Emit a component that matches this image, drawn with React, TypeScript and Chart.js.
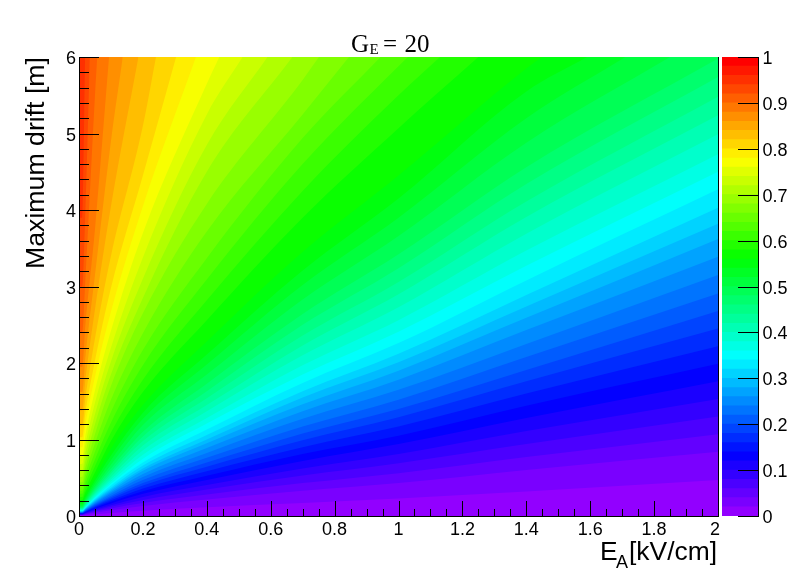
import React, { useEffect, useRef } from "react";
import { Chart, registerables } from "chart.js";

Chart.register(...registerables);

// Sampled x positions of the contour lines (kV/cm)
const contourX = [0.01, 0.02, 0.05, 0.1, 0.2, 0.4, 0.7, 1, 1.4, 2];

// Contour heights (m) at contourX, level value -> heights. Rows that leave through the top edge are shorter.
const contourRows: [number, number[]][] = [
  [0.02, [0.006, 0.011, 0.023, 0.04, 0.07, 0.115, 0.17, 0.23, 0.32, 0.47]],
  [0.04, [0.012, 0.02, 0.043, 0.075, 0.13, 0.215, 0.33, 0.43, 0.6, 0.84]],
  [0.06, [0.016, 0.027, 0.056, 0.098, 0.17, 0.28, 0.43, 0.56, 0.77, 1.07]],
  [0.08, [0.02, 0.033, 0.069, 0.12, 0.21, 0.345, 0.53, 0.69, 0.94, 1.3]],
  [0.1, [0.024, 0.039, 0.081, 0.142, 0.25, 0.405, 0.62, 0.81, 1.11, 1.53]],
  [0.12, [0.028, 0.045, 0.094, 0.165, 0.29, 0.47, 0.72, 0.94, 1.28, 1.76]],
  [0.14, [0.032, 0.05, 0.105, 0.185, 0.325, 0.525, 0.81, 1.05, 1.44, 1.99]],
  [0.16, [0.035, 0.056, 0.117, 0.205, 0.36, 0.585, 0.9, 1.17, 1.6, 2.22]],
  [0.18, [0.039, 0.062, 0.129, 0.225, 0.4, 0.645, 0.99, 1.29, 1.76, 2.45]],
  [0.2, [0.042, 0.067, 0.14, 0.245, 0.43, 0.7, 1.08, 1.4, 1.91, 2.68]],
  [0.22, [0.046, 0.073, 0.152, 0.265, 0.47, 0.76, 1.17, 1.52, 2.08, 2.91]],
  [0.24, [0.05, 0.08, 0.165, 0.29, 0.51, 0.825, 1.27, 1.65, 2.25, 3.15]],
  [0.26, [0.053, 0.085, 0.178, 0.31, 0.55, 0.89, 1.37, 1.78, 2.43, 3.39]],
  [0.28, [0.057, 0.091, 0.19, 0.33, 0.59, 0.95, 1.46, 1.9, 2.59, 3.62]],
  [0.3, [0.06, 0.096, 0.2, 0.35, 0.62, 1.0, 1.55, 2.01, 2.74, 3.82]],
  [0.32, [0.064, 0.102, 0.212, 0.37, 0.66, 1.06, 1.63, 2.12, 2.89, 4.03]],
  [0.34, [0.068, 0.108, 0.226, 0.4, 0.7, 1.13, 1.74, 2.26, 3.08, 4.27]],
  [0.36, [0.072, 0.116, 0.241, 0.42, 0.75, 1.21, 1.85, 2.41, 3.27, 4.5]],
  [0.38, [0.08, 0.125, 0.256, 0.45, 0.8, 1.28, 1.97, 2.56, 3.47, 4.73]],
  [0.4, [0.085, 0.135, 0.275, 0.48, 0.86, 1.37, 2.1, 2.73, 3.69, 4.99]],
  [0.42, [0.09, 0.145, 0.295, 0.51, 0.92, 1.45, 2.23, 2.9, 3.91, 5.24]],
  [0.44, [0.1, 0.155, 0.315, 0.55, 0.98, 1.54, 2.36, 3.06, 4.11, 5.48]],
  [0.46, [0.105, 0.165, 0.335, 0.58, 1.04, 1.63, 2.5, 3.24, 4.34, 5.74]],
  [0.48, [0.115, 0.18, 0.36, 0.62, 1.1, 1.73, 2.64, 3.42, 4.56, 5.98]],
  [0.5, [0.125, 0.195, 0.385, 0.67, 1.19, 1.85, 2.83, 3.66, 4.88]],
  [0.52, [0.14, 0.215, 0.42, 0.73, 1.27, 1.98, 3.02, 3.9, 5.2]],
  [0.54, [0.16, 0.24, 0.46, 0.79, 1.35, 2.11, 3.21, 4.15, 5.55]],
  [0.56, [0.18, 0.27, 0.5, 0.88, 1.45, 2.28, 3.45, 4.45, 5.85]],
  [0.58, [0.21, 0.31, 0.57, 0.98, 1.62, 2.56, 3.9, 5.07]],
  [0.6, [0.25, 0.36, 0.65, 1.09, 1.78, 2.82, 4.25, 5.5]],
  [0.62, [0.29, 0.42, 0.74, 1.22, 1.97, 3.09, 4.6, 5.88]],
  [0.64, [0.33, 0.48, 0.84, 1.36, 2.17, 3.37, 4.94]],
  [0.66, [0.38, 0.55, 0.95, 1.52, 2.39, 3.72, 5.25]],
  [0.68, [0.44, 0.63, 1.07, 1.7, 2.65, 4.08, 5.7]],
  [0.7, [0.51, 0.72, 1.2, 1.85, 2.85, 4.5]],
  [0.72, [0.59, 0.82, 1.33, 2.02, 3.1, 4.85]],
  [0.74, [0.68, 0.93, 1.48, 2.2, 3.38, 5.25]],
  [0.76, [0.78, 1.05, 1.64, 2.42, 3.7, 5.65]],
  [0.78, [0.9, 1.19, 1.82, 2.67, 4.05]],
  [0.8, [1.03, 1.35, 2.03, 2.98, 4.45]],
  [0.82, [1.18, 1.54, 2.32, 3.4, 5.1]],
  [0.84, [1.38, 1.78, 2.7, 4.05]],
  [0.86, [1.62, 2.08, 3.15, 4.9]],
  [0.88, [1.95, 2.5, 3.75]],
  [0.9, [2.4, 3.1, 5.5]],
  [0.92, [3.0, 4.0]],
  [0.94, [3.9]],
];

// Where the higher contours meet the top edge of the plot (kV/cm), by level
const topCrossX: Record<string, number> = {
  "0.5": 1.85, "0.52": 1.71, "0.54": 1.59, "0.56": 1.45, "0.58": 1.25, "0.6": 1.13,
  "0.62": 1.03, "0.64": 0.944, "0.66": 0.845, "0.68": 0.751, "0.7": 0.668, "0.72": 0.59,
  "0.74": 0.512, "0.76": 0.439, "0.78": 0.366, "0.8": 0.304, "0.82": 0.241, "0.84": 0.186,
  "0.86": 0.137, "0.88": 0.094, "0.9": 0.057, "0.92": 0.034, "0.94": 0.019,
};

const colorBandTops = [
  0.02, 0.04, 0.06, 0.08, 0.1, 0.12, 0.14, 0.16, 0.18, 0.2,
  0.22, 0.24, 0.26, 0.28, 0.3, 0.32, 0.34, 0.36, 0.38, 0.4,
  0.42, 0.44, 0.46, 0.48, 0.5, 0.52, 0.54, 0.56, 0.58, 0.6,
  0.62, 0.64, 0.66, 0.68, 0.7, 0.72, 0.74, 0.76, 0.78, 0.8,
  0.82, 0.84, 0.86, 0.88, 0.9, 0.92, 0.94, 0.96, 0.98, 1,
];

const xTicks = [0, 0.2, 0.4, 0.6, 0.8, 1, 1.2, 1.4, 1.6, 1.8, 2];
const xTickLabels = ["0", "0.2", "0.4", "0.6", "0.8", "1", "1.2", "1.4", "1.6", "1.8", "2"];
const yTicks = [0, 1, 2, 3, 4, 5, 6];
const zTicks = [0, 0.1, 0.2, 0.3, 0.4, 0.5, 0.6, 0.7, 0.8, 0.9, 1];
const zTickLabels = ["0", "0.1", "0.2", "0.3", "0.4", "0.5", "0.6", "0.7", "0.8", "0.9", "1"];

const SANS = '"Liberation Sans", Arial, sans-serif';
const SERIF = '"Liberation Serif", "Times New Roman", serif';

const bandColor = (bandIndex: number) => `hsl(${280 - (bandIndex + 1) * 5.6}, 100%, 50%)`;

function line(ctx: CanvasRenderingContext2D, x1: number, y1: number, x2: number, y2: number) {
  ctx.beginPath();
  ctx.moveTo(x1, y1);
  ctx.lineTo(x2, y2);
  ctx.stroke();
}

const frameAndText = {
  id: "frameAndText",
  afterDraw(chart: any) {
    const { ctx, chartArea: a, scales } = chart;
    const px = (v: number) => Math.round(v) + 0.5;
    ctx.save();
    ctx.strokeStyle = "#000";
    ctx.lineWidth = 1;
    line(ctx, px(a.left), a.top, px(a.left), a.bottom + 1);
    line(ctx, a.left, px(a.bottom), a.right + 1, px(a.bottom));
    line(ctx, px(a.right), a.top, px(a.right), a.bottom + 1);
    const xs = scales.x;
    const ys = scales.y;
    ctx.fillStyle = "#000";
    ctx.textBaseline = "alphabetic";
    ctx.font = `18px ${SANS}`;
    ctx.textAlign = "center";
    for (let i = 0; i < xTicks.length; i++) {
      const x0 = xTicks[i];
      const p0 = xs.getPixelForValue(x0);
      line(ctx, px(p0), a.bottom, px(p0), a.bottom - 15);
      ctx.fillText(xTickLabels[i], i === xTicks.length - 1 ? p0 - 3 : p0, 535);
      if (i < xTicks.length - 1) {
        for (const f of [0.05, 0.1, 0.15]) {
          const p = px(xs.getPixelForValue(x0 + f));
          line(ctx, p, a.bottom, p, a.bottom - 7);
        }
      }
    }
    ctx.textAlign = "right";
    for (let i = 0; i < yTicks.length; i++) {
      const y0 = yTicks[i];
      const p0 = ys.getPixelForValue(y0);
      line(ctx, a.left, px(p0), a.left + 20, px(p0));
      ctx.fillText(String(y0), 76, p0 + 7);
      if (i < yTicks.length - 1) {
        for (const f of [0.2, 0.4, 0.6, 0.8]) {
          const p = px(ys.getPixelForValue(y0 + f));
          line(ctx, a.left, p, a.left + 10, p);
        }
      }
    }

    ctx.textAlign = "left";
    ctx.font = `25px ${SERIF}`;
    ctx.fillText("G", 351, 52);
    ctx.font = `15px ${SERIF}`;
    ctx.fillText("E", 369.5, 54);
    ctx.font = `25px ${SERIF}`;
    ctx.fillText("=", 383, 52);
    ctx.fillText("20", 404.5, 52);

    ctx.font = `26.4px ${SANS}`;
    ctx.fillText("E", 600, 560);
    ctx.font = `18px ${SANS}`;
    ctx.fillText("A", 616, 568);
    ctx.font = `26.4px ${SANS}`;
    ctx.fillText("[kV/cm]", 629, 560);

    ctx.translate(44, 57);
    ctx.rotate(-Math.PI / 2);
    ctx.textAlign = "right";
    ctx.font = `26.7px ${SANS}`;
    ctx.fillText("Maximum drift [m]", 0, 0);
    ctx.restore();
  },
};

const colorBarFrame = {
  id: "colorBarFrame",
  afterDraw(chart: any) {
    const { ctx, chartArea: a, scales } = chart;
    ctx.save();
    ctx.strokeStyle = "#000";
    ctx.fillStyle = "#000";
    ctx.lineWidth = 1;
    ctx.font = `18px ${SANS}`;
    ctx.textAlign = "left";
    ctx.textBaseline = "alphabetic";
    line(ctx, a.right + 0.5, a.top, a.right + 0.5, a.bottom + 1);
    zTicks.forEach((z, i) => {
      const raw = scales.y.getPixelForValue(z);
      const p = Math.round(raw) + 0.5;
      line(ctx, a.right, p, a.right - 20, p);
      ctx.fillText(zTickLabels[i], 762.5, raw + 7);
    });
    ctx.restore();
  },
};

export default function App() {
  const mainRef = useRef<HTMLCanvasElement>(null);
  const barRef = useRef<HTMLCanvasElement>(null);

  useEffect(() => {
    const contourSets = contourRows
      .map(([level, ys], index) => {
        const cross = topCrossX[String(level)];
        const pts = [{ x: 0, y: ys[0] }, ...ys.map((y, i) => ({ x: contourX[i], y }))];
        if (cross !== undefined) pts.push({ x: cross, y: 6 });
        return {
          data: pts,
          backgroundColor: bandColor(index + 1),
          borderWidth: 0,
          borderColor: "transparent",
          pointRadius: 0,
          cubicInterpolationMode: "monotone" as const,
          fill: { value: 6 },
        };
      })
      .reverse();
    const base = {
      data: [{ x: 0, y: 0 }, { x: 2, y: 0 }],
      backgroundColor: bandColor(0),
      borderWidth: 0,
      borderColor: "transparent",
      pointRadius: 0,
      fill: { value: 6 },
    };
    const main = new Chart(mainRef.current!, {
      type: "line",
      data: { datasets: [...contourSets, base] as any },
      plugins: [frameAndText],
      options: {
        animation: false,
        responsive: false,
        layout: { padding: { left: 0, top: 57, right: 80, bottom: 0 } },
        plugins: { legend: { display: false }, tooltip: { enabled: false }, title: { display: false } },
        scales: {
          x: {
            type: "linear",
            min: 0,
            max: 2,
            afterFit: (s: any) => { s.height = 58; },
            grid: { display: false },
            border: { display: false },
            ticks: { display: false },
          },
          y: {
            type: "linear",
            min: 0,
            max: 6,
            afterFit: (s: any) => { s.width = 79; },
            grid: { display: false },
            border: { display: false },
            ticks: { display: false },
          },
        },
      } as any,
    });

    const bar = new Chart(barRef.current!, {
      type: "bar",
      data: {
        labels: [""],
        datasets: colorBandTops.map((top, k) => ({
          data: [top],
          backgroundColor: bandColor(k),
          borderWidth: 0,
          barPercentage: 1,
          categoryPercentage: 1,
        })),
      },
      plugins: [colorBarFrame],
      options: {
        animation: false,
        responsive: false,
        layout: { padding: { left: 722, top: 57, right: 0, bottom: 574 - 516 } },
        plugins: { legend: { display: false }, tooltip: { enabled: false } },
        scales: {
          x: { display: false, stacked: true },
          y: {
            type: "linear",
            position: "right",
            min: 0,
            max: 1,
            afterFit: (s: any) => { s.width = 40; },
            grid: { display: false },
            border: { display: false },
            ticks: { display: false },
          },
        },
      } as any,
    });

    return () => {
      main.destroy();
      bar.destroy();
    };
  }, []);

  const canvasStyle: React.CSSProperties = { position: "absolute", left: 0, top: 0, display: "block" };
  return (
    <div style={{ position: "absolute", left: 0, top: 0, width: 798, height: 574, background: "#fff", overflow: "hidden" }}>
      <canvas ref={mainRef} width={798} height={574} style={canvasStyle} />
      <canvas ref={barRef} width={798} height={574} style={canvasStyle} />
    </div>
  );
}
